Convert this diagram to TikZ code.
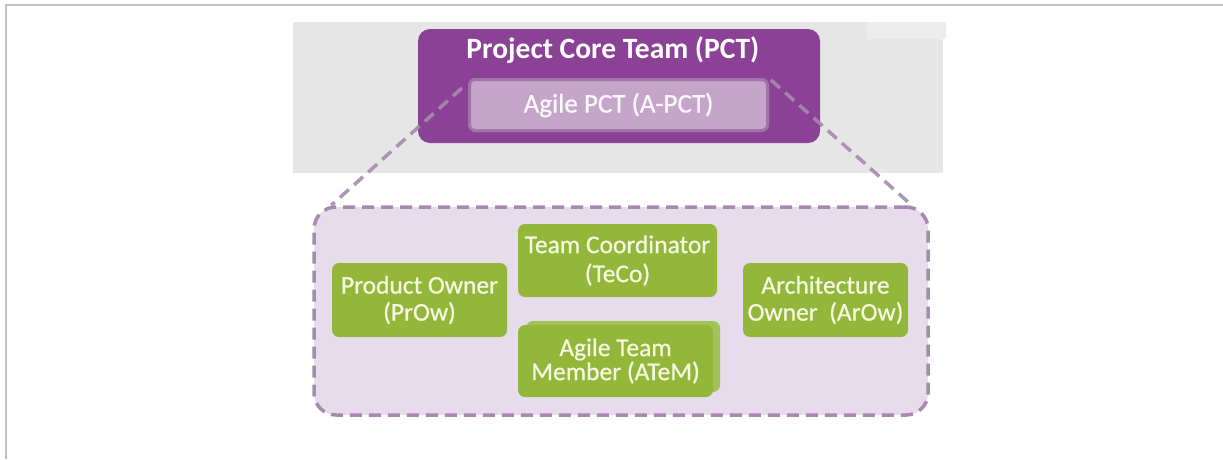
\documentclass[tikz,border=0pt]{standalone}
\usepackage{fontspec}
\setmainfont{Carlito}
\newfontfamily\rolefont[FakeBold=0.7]{Carlito}
\usetikzlibrary{positioning}

\definecolor{framegray}{HTML}{C0C0C0}
\definecolor{bandgray}{HTML}{E6E6E7}
\definecolor{bandlight}{HTML}{ECECEC}
\definecolor{pctpurple}{HTML}{8B4196}
\definecolor{apctfill}{HTML}{C6A5CB}
\definecolor{apctrim}{HTML}{A272AA}
\definecolor{apcttext}{HTML}{FBF8FC}
\definecolor{dashlilac}{HTML}{A68BAF}
\definecolor{teamfill}{HTML}{E6DCEB}
\definecolor{rolegreen}{HTML}{93B73A}
\definecolor{rolegreenback}{HTML}{A3C257}
\definecolor{roletext}{HTML}{F6F8DF}

\tikzset{
  rolebox/.style={draw=none, fill=rolegreen, rounded corners=7pt, inner sep=0pt,
    align=center, text=roletext,
    font=\rolefont\fontsize{25.5}{27}\selectfont},
  zoomline/.style={draw=dashlilac, line width=3.5pt, dash pattern=on 12pt off 7pt,
    draw opacity=0.9},
  apctbox/.style={fill=apctfill, draw=apctrim, line width=3pt, rounded corners=6pt,
    minimum width=298pt, minimum height=51pt, inner sep=0pt,
    text=apcttext, font=\rolefont\fontsize{27}{28}\selectfont},
}

\begin{document}
\begin{tikzpicture}[x=1pt, y=-1pt]
  \useasboundingbox (0,0) rectangle (1223,459);
  \fill[white] (0,0) rectangle (1223,459);

  % page frame
  \draw[framegray, line width=2pt] (6,459) -- (6,5) -- (1223,5);

  % grey band behind the core team
  \fill[bandgray] (293,22) rectangle (943,173);
  \fill[bandlight] (867,22) rectangle (946,39);

  % Project Core Team
  \node[fill=pctpurple, rounded corners=12pt, minimum width=402pt, minimum height=114pt,
        inner sep=0pt] (pct) at (619,86) {};
  \node[text=white, font=\bfseries\fontsize{29.5}{31}\selectfont, inner sep=0pt]
        (pcttitle) at (613,50) {Project Core Team (PCT)};

  % lower box holding the agile team roles
  \node[fill=teamfill, draw=dashlilac, line width=3.5pt, dash pattern=on 12pt off 7pt,
        rounded corners=22pt, minimum width=614pt, minimum height=208pt, inner sep=0pt]
        (team) at (621,311) {};

  % inner Agile PCT box, with the zoom lines running from it to the team box
  \node[apctbox] (apct) at (618.5,105) {Agile PCT (A-PCT)};
  \draw[zoomline] ([shift={(-6,10)}]apct.north west) -- ([xshift=19pt]team.north west);
  \draw[zoomline] ([shift={(2,2)}]apct.north east) -- ([xshift=-18pt]team.north east);
  \node[apctbox] at (apct) {Agile PCT (A-PCT)};

  % roles
  \node[rolebox, minimum width=175pt, minimum height=74pt] (prow) at (419.5,300)
        {Product Owner\\(PrOw)};
  \node[rolebox, minimum width=199pt, minimum height=73pt,
        font=\rolefont\fontsize{25.5}{29}\selectfont] (teco) at (617.5,260.5)
        {Team Coordinator\\(TeCo)};
  \node[rolebox, fill=rolegreenback, minimum width=194pt, minimum height=71pt]
        (atemback) at (623,356.5) {};
  \node[rolebox, minimum width=195pt, minimum height=72pt,
        font=\rolefont\fontsize{25.5}{24}\selectfont] (atem) at (615.5,361)
        {Agile Team\\Member (ATeM)};
  \node[rolebox, minimum width=165pt, minimum height=74pt] (arow) at (825.5,300)
        {Architecture\\Owner\ \ (ArOw)};
\end{tikzpicture}
\end{document}
